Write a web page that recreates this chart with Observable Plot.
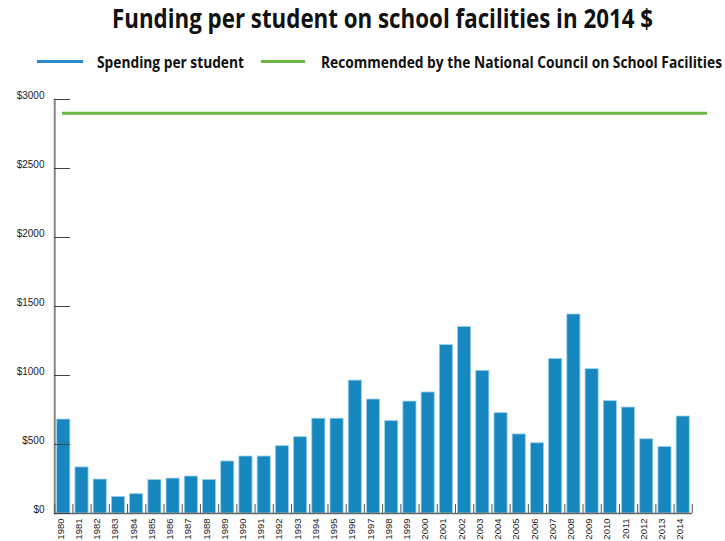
<!DOCTYPE html>
<html><head><meta charset="utf-8">
<script src="https://cdn.jsdelivr.net/npm/d3@7"></script>
<script src="https://cdn.jsdelivr.net/npm/@observablehq/plot@0.6"></script>
<style>
body{margin:0;background:#fff;}
#wrap{position:relative;width:725px;height:541px;overflow:hidden;font-family:"Open Sans",sans-serif;}
#title{position:absolute;left:112px;top:1px;font-weight:700;font-size:27px;line-height:34px;color:#111;white-space:nowrap;display:inline-block;transform-origin:0 0;}
#legend{position:absolute;top:50px;left:0;height:24px;width:725px;}
.sw{position:absolute;top:10.2px;height:3px;}
.lt{position:absolute;top:0;font-size:16px;font-weight:700;line-height:24px;color:#111;white-space:nowrap;display:inline-block;transform-origin:0 0;}
#chart{position:absolute;left:0;top:80px;}
</style></head><body>
<div id="wrap">
<div id="title">Funding per student on school facilities in 2014 $</div>
<div id="legend">
 <div class="sw" style="left:37px;width:46px;background:#2a8cc8"></div>
 <div class="lt" id="l1" style="left:97px">Spending per student</div>
 <div class="sw" style="left:261px;width:44px;background:#6ab744"></div>
 <div class="lt" id="l2" style="left:321px">Recommended by the National Council on School Facilities</div>
</div>
<div id="chart"></div>
</div>
<script>
const years = [1980,1981,1982,1983,1984,1985,1986,1987,1988,1989,1990,1991,1992,1993,1994,1995,1996,1997,1998,1999,2000,2001,2002,2003,2004,2005,2006,2007,2008,2009,2010,2011,2012,2013,2014];
const spending = [681,334,246,120,140,243,253,268,243,377,413,413,488,553,687,687,963,826,669,811,877,1220,1352,1034,727,573,509,1120,1442,1046,814,768,538,481,703];
const recommended = 2900;
const yTicks = [0,500,1000,1500,2000,2500,3000];

function fit(id, target) {
  const el = document.getElementById(id);
  const w = el.getBoundingClientRect().width;
  el.style.transform = `scaleX(${target / w})`;
}
fit("title", 541);
fit("l1", 147);
fit("l2", 401);

const data = years.map((y,i)=>({year:String(y), value:spending[i]}));
const W=725, H=461, mL=54, mR=33, mT=19, mB=28;
const font = '"Liberation Sans",Arial,sans-serif';
const plot = Plot.plot({
  width: W, height: H, marginLeft: mL, marginRight: mR, marginTop: mT, marginBottom: mB,
  style: {fontFamily: font, fontSize: "10px", color: "#222", background: "#fff"},
  x: {domain: years.map(String), paddingInner: 0.28, paddingOuter: 0.15, round: false, label: null},
  y: {domain: [0,3000], label: null},
  marks: [
    Plot.barY(data, {x:"year", y:"value", fill:"#1688bf", stroke:"#9ccfe9", strokeWidth:0.8}),
    Plot.ruleY([recommended], {stroke:"#6ab744", strokeWidth:3, insetLeft:8, insetRight:-15}),
    Plot.ruleY([0], {stroke:"#666", strokeWidth:1.5}),
    Plot.frame({stroke:"#888", strokeWidth:1.5, fill:"none", insetRight: W-mL-mR-0.5}),
    Plot.tickY(yTicks, {y: d=>d, stroke:"#444", strokeWidth:1, insetRight: W-mL-mR-16}),
    Plot.tickX(years.map(String), {x: d=>d, dx: -9.1, stroke:"#555", insetTop: H-mT-mB-9}),
    Plot.tickX([String(years[years.length-1])], {x: d=>d, dx: 9.1, stroke:"#555", insetTop: H-mT-mB-9}),
    Plot.axisY(yTicks, {tickSize:0, tickPadding:10, tickFormat: d=>"$"+d, dy:-4, fontSize:10}),
    Plot.axisX({tickSize:0, tickRotate:-90, tickPadding:5, fontSize:9.5, dx:-3})
  ]
});
document.getElementById("chart").appendChild(plot);
</script>
</body></html>
